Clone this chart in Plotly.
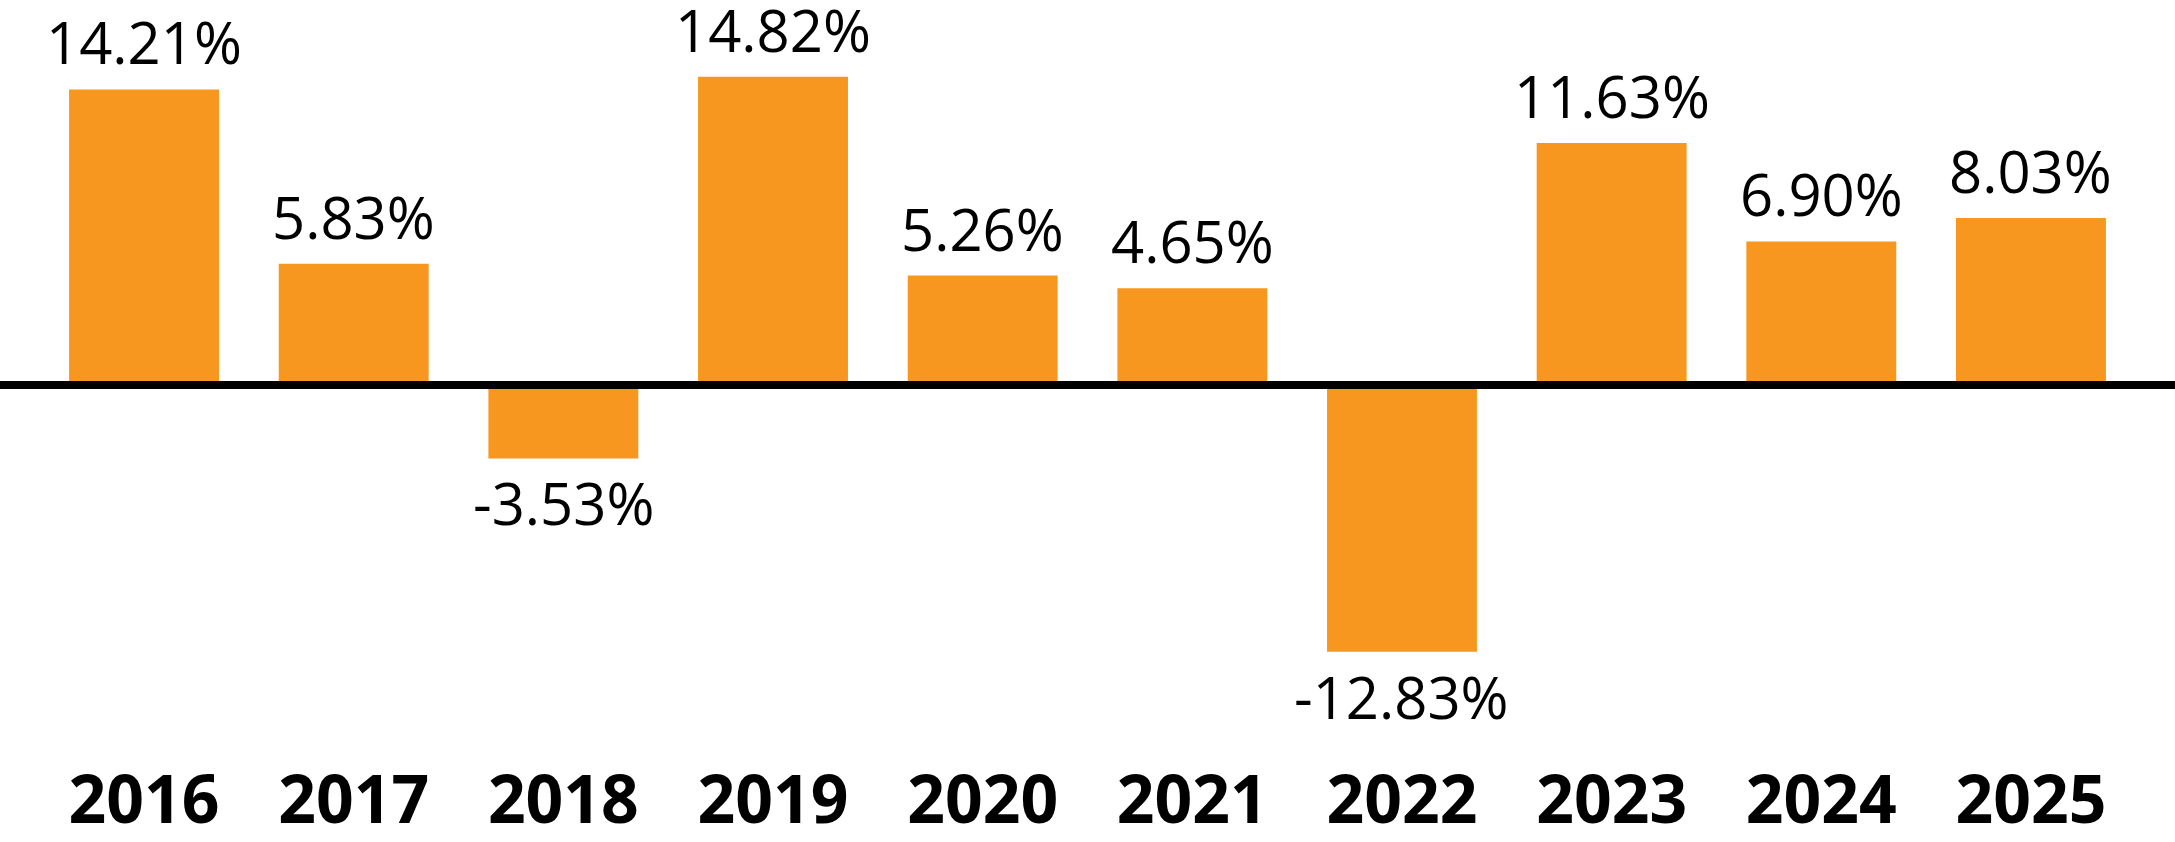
import plotly.graph_objects as go

years = ["2016", "2017", "2018", "2019", "2020", "2021", "2022", "2023", "2024", "2025"]
returns = [14.21, 5.83, -3.53, 14.82, 5.26, 4.65, -12.83, 11.63, 6.90, 8.03]
labels = ["14.21%", "5.83%", "-3.53%", "14.82%", "5.26%", "4.65%", "-12.83%", "11.63%", "6.90%", "8.03%"]

ORANGE = "#F7971F"
W, H = 2175, 842
MB = 122
VALUE_FONT = "Open Sans, Noto Sans, sans-serif"
YEAR_FONT = "Open Sans, Noto Sans, sans-serif"

fig = go.Figure()
fig.add_trace(go.Bar(x=years, y=returns, marker=dict(color=ORANGE, line=dict(width=0)),
                     hoverinfo="skip"))

for i, (v, t) in enumerate(zip(returns, labels)):
    if v >= 0:
        fig.add_annotation(x=i, y=v, text=t, showarrow=False, yanchor="bottom", yshift=6,
                           font=dict(family=VALUE_FONT, size=58, color="#000"))
    else:
        fig.add_annotation(x=i, y=v, text=t, showarrow=False, yanchor="top", yshift=-3,
                           font=dict(family=VALUE_FONT, size=58, color="#000"))

fig.add_shape(type="line", xref="paper", yref="y", x0=0, x1=1, y0=0, y1=0,
              line=dict(color="#000", width=8), layer="above")

fig.update_layout(
    width=W, height=H,
    margin=dict(l=0, r=0, t=0, b=MB, autoexpand=False),
    paper_bgcolor="white", plot_bgcolor="white",
    bargap=0.285,
    showlegend=False,
    xaxis=dict(type="category", range=[-0.687, 9.687], showgrid=False, zeroline=False,
               showline=False, ticks="", automargin=False,
               tickfont=dict(family=YEAR_FONT, size=66, color="#000", weight="bold"),
               ticklabelstandoff=36),
    yaxis=dict(range=[(385 - (H - MB)) / 20.8, 385 / 20.8], visible=False, showgrid=False,
               zeroline=False, automargin=False),
)

fig.write_html("out.html", config={"displayModeBar": False},
               post_script="document.body.style.margin='0';document.body.style.overflow='hidden';")
